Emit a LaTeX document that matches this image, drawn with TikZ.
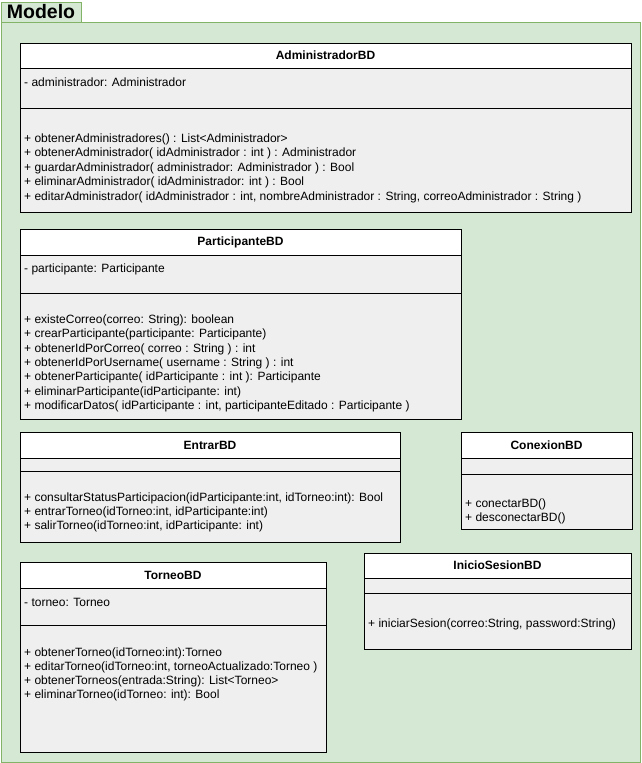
\documentclass[tikz,border=0pt]{standalone}
\usepackage{fontspec}
\setmainfont{Liberation Sans}
\definecolor{pkgfill}{HTML}{D5E8D4}
\definecolor{pkgline}{HTML}{82B366}
\definecolor{membfill}{HTML}{EFEFEF}
\tikzset{
  pkgbox/.style={draw=pkgline, fill=pkgfill, line width=1pt, anchor=north west, inner sep=0, outer sep=0},
  headbox/.style={draw=black, fill=white, line width=1pt, anchor=north west, inner sep=0, outer sep=0,
    font=\bfseries\fontsize{12}{14.4}\selectfont},
  sectbox/.style={draw=black, fill=membfill, line width=1pt, anchor=north west, inner sep=0, outer sep=0},
  member/.style={anchor=base west, inner sep=0, font=\fontsize{12}{14.4}\selectfont}
}
\begin{document}
\begin{tikzpicture}[x=1pt,y=-1pt]
\useasboundingbox (0,0) rectangle (641,763);

% package frame with its tab
\node[pkgbox, minimum width=639pt, minimum height=740pt] (pkg) at (1,22) {};
\node[pkgbox, minimum width=80pt, minimum height=20pt,
      font=\bfseries\fontsize{19.5}{22}\selectfont] (pkgtab) at (1,2) {Modelo};

% AdministradorBD
\node[headbox, minimum width=611pt, minimum height=25pt] (adm) at (20,43) {AdministradorBD};
\node[sectbox, minimum width=611pt, minimum height=40pt] (adm-attr) at (20,68) {};
\node[sectbox, minimum width=611pt, minimum height=104pt] (adm-meth) at (20,108) {};
\node[member] (adm-a1) at (24,86.3) {- administrador: Administrador};
\foreach \t [count=\i] in {
  {+ obtenerAdministradores() : List<Administrador>},
  {+ obtenerAdministrador( idAdministrador : int ) : Administrador},
  {+ guardarAdministrador( administrador: Administrador ) : Bool},
  {+ eliminarAdministrador( idAdministrador: int ) : Bool},
  {+ editarAdministrador( idAdministrador : int, nombreAdministrador : String, correoAdministrador : String )}}
  \node[member] (adm-m\i) at (24,{142.3+14.5*(\i-1)}) {\t};

% ParticipanteBD
\node[headbox, minimum width=441pt, minimum height=26pt] (par) at (20,229) {ParticipanteBD};
\node[sectbox, minimum width=441pt, minimum height=38pt] (par-attr) at (20,255) {};
\node[sectbox, minimum width=441pt, minimum height=126pt] (par-meth) at (20,293) {};
\node[member] (par-a1) at (24,272.3) {- participante: Participante};
\foreach \t [count=\i] in {
  {+ existeCorreo(correo: String): boolean},
  {+ crearParticipante(participante: Participante)},
  {+ obtenerIdPorCorreo( correo : String ) : int},
  {+ obtenerIdPorUsername( username : String ) : int},
  {+ obtenerParticipante( idParticipante : int ): Participante},
  {+ eliminarParticipante(idParticipante: int)},
  {+ modificarDatos( idParticipante : int, participanteEditado : Participante )}}
  \node[member] (par-m\i) at (24,{323.3+14.35*(\i-1)}) {\t};

% EntrarBD
\node[headbox, minimum width=380pt, minimum height=26pt] (ent) at (20,432) {EntrarBD};
\node[sectbox, minimum width=380pt, minimum height=13pt] (ent-attr) at (20,458) {};
\node[sectbox, minimum width=380pt, minimum height=71pt] (ent-meth) at (20,471) {};
\foreach \t [count=\i] in {
  {+ consultarStatusParticipacion(idParticipante:int, idTorneo:int): Bool},
  {+ entrarTorneo(idTorneo:int, idParticipante:int)},
  {+ salirTorneo(idTorneo:int, idParticipante: int)}}
  \node[member] (ent-m\i) at (24,{501.3+14*(\i-1)}) {\t};

% ConexionBD
\node[headbox, minimum width=171pt, minimum height=26pt] (con) at (461,432) {ConexionBD};
\node[sectbox, minimum width=171pt, minimum height=16pt] (con-attr) at (461,458) {};
\node[sectbox, minimum width=171pt, minimum height=55pt] (con-meth) at (461,474) {};
\node[member] (con-m1) at (465,507.3) {+ conectarBD()};
\node[member] (con-m2) at (465,521.8) {+ desconectarBD()};

% InicioSesionBD
\node[headbox, minimum width=267pt, minimum height=25pt] (ini) at (364,553) {InicioSesionBD};
\node[sectbox, minimum width=267pt, minimum height=15pt] (ini-attr) at (364,578) {};
\node[sectbox, minimum width=267pt, minimum height=56pt] (ini-meth) at (364,593) {};
\node[member] (ini-m1) at (368,627.3) {+ iniciarSesion(correo:String, password:String)};

% TorneoBD
\node[headbox, minimum width=306pt, minimum height=26pt] (tor) at (20,562) {TorneoBD};
\node[sectbox, minimum width=306pt, minimum height=37pt] (tor-attr) at (20,588) {};
\node[sectbox, minimum width=306pt, minimum height=127pt] (tor-meth) at (20,625) {};
\node[member] (tor-a1) at (24,606.3) {- torneo: Torneo};
\foreach \t [count=\i] in {
  {+ obtenerTorneo(idTorneo:int):Torneo},
  {+ editarTorneo(idTorneo:int, torneoActualizado:Torneo )},
  {+ obtenerTorneos(entrada:String): List<Torneo>},
  {+ eliminarTorneo(idTorneo: int): Bool}}
  \node[member] (tor-m\i) at (24,{656.3+14*(\i-1)}) {\t};
\end{tikzpicture}
\end{document}
